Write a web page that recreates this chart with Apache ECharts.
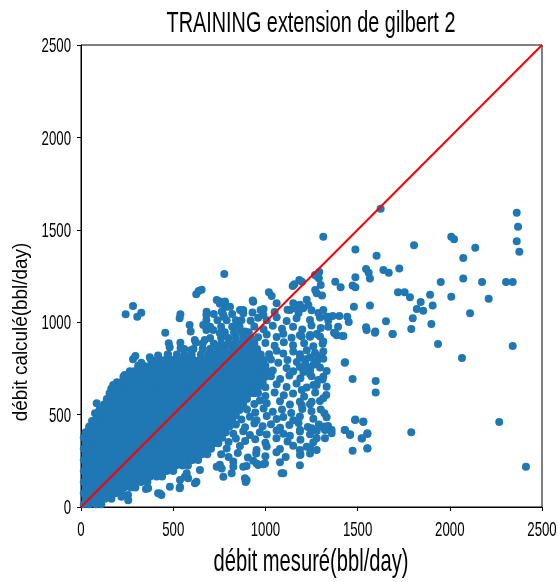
<!DOCTYPE html>
<html>
<head>
<meta charset="utf-8">
<script src="https://cdn.jsdelivr.net/npm/echarts@6/dist/echarts.min.js"></script>
<style>html,body{margin:0;padding:0;background:#fff}#c{width:558px;height:582px}</style>
</head>
<body>
<div id="c"></div>
<script>
const titleText = 'TRAINING extension de gilbert 2';
const xName = 'débit mesuré(bbl/day)';
const yName = 'débit calculé(bbl/day)';
const axisTicks = [0, 500, 1000, 1500, 2000, 2500];
const diagLine = [[0, 0], [2500, 2500]];

// dense core: [y, [x values]]
const coreRows = [
 [15,[15,45,80,110]],
 [45,[25,60,95,130,165]],
 [75,[15,45,80,115,150,185,220]],
 [105,[25,60,95,130,165,200,235,270,295]],
 [135,[15,45,80,115,150,185,220,255,290,325,360]],
 [165,[25,60,95,130,165,200,235,270,305,340,375,410,440]],
 [195,[15,45,80,115,150,185,220,255,290,325,360,395,430,465,500]],
 [225,[25,60,95,130,165,200,235,270,305,340,375,410,445,480,515,550,580]],
 [255,[15,45,80,115,150,185,220,255,290,325,360,395,430,465,500,535,570,605,635]],
 [285,[25,60,95,130,165,200,235,270,305,340,375,410,445,480,515,550,585,620,655,685]],
 [315,[15,45,80,115,150,185,220,255,290,325,360,395,430,465,500,535,570,605,640,675,705]],
 [345,[25,60,95,130,165,200,235,270,305,340,375,410,445,480,515,550,585,620,655,690,720,745]],
 [375,[15,45,80,115,150,185,220,255,290,325,360,395,430,465,500,535,570,605,640,675,710,740,765]],
 [405,[25,60,95,130,165,200,235,270,305,340,375,410,445,480,515,550,585,620,655,690,725,755,785]],
 [435,[45,80,115,150,185,220,255,290,325,360,395,430,465,500,535,570,605,640,675,710,745,775,805]],
 [465,[60,95,130,165,200,235,270,305,340,375,410,445,480,515,550,585,620,655,690,725,760,790,820]],
 [495,[85,115,150,185,220,255,290,325,360,395,430,465,500,535,570,605,640,675,710,745,780,810,840]],
 [525,[100,130,165,200,235,270,305,340,375,410,445,480,515,550,585,620,655,690,725,760,795,825,860]],
 [555,[125,150,185,220,255,290,325,360,395,430,465,500,535,570,605,640,675,710,745,780,815,845,880]],
 [585,[140,165,200,235,270,305,340,375,410,445,480,515,550,585,620,655,690,725,760,795,830,865,900]],
 [615,[155,185,220,255,290,325,360,395,430,465,500,535,570,605,640,675,710,745,780,815,850,885,915,940]],
 [645,[170,200,235,270,305,340,375,410,445,480,515,550,585,620,655,690,725,760,795,830,865,900,930,960]],
 [675,[195,220,255,290,325,360,395,430,465,500,535,570,605,640,675,710,745,780,815,850,885,920,955,985]],
 [705,[230,270,305,340,375,410,445,480,515,550,585,620,655,690,725,760,795,830,865,900,935,970,1000]],
 [735,[265,290,325,360,395,430,465,500,535,570,605,640,675,710,745,780,815,850,885,920,955,990,1010]],
 [765,[310,340,375,410,445,480,515,550,585,620,655,690,725,760,795,830,865,900,935,970,1000]],
 [795,[380,430,465,500,540,575,610,645,680,715,750,785,820,855,890,925,960,990]],
 [825,[470,520,560,600,650,690,725,760,795,830,870,905,940,975]],
 [855,[560,610,660,700,740,780,820,850,885,920,955]],
 [885,[660,720,760,800,835,870,905,940]],
 [915,[700,760,800,840,880,920]],
 [945,[780,830,870,910]],
 [975,[700,760,820,860]],
 [1010,[680,740,790,840,870]],
 [1045,[720,770,820]]
];

// moderately dense area right of the core
const midPoints = [
 [753,228],[826,246],[898,222],[934,250],[989,231],[1079,242],[1187,226],
 [760,286],[800,271],[850,292],[905,268],[950,289],[1000,275],[1060,296],[1110,270],[1190,284],
 [790,316],[862,330],[952,309],[1007,327],[1079,314],[1151,332],[1187,308],[1242,322],
 [800,352],[840,371],[890,357],[945,366],[1000,348],[1060,372],[1120,355],[1190,364],[1260,350],
 [826,396],[880,410],[916,389],[970,404],[1007,392],[1061,414],[1097,397],[1133,386],[1187,408],[1242,393],[1278,411],
 [840,446],[890,431],[940,452],[985,437],[1030,448],[1080,429],[1130,444],[1180,455],[1230,433],[1290,447],[1340,438],
 [870,474],[916,489],[952,470],[1007,493],[1061,476],[1097,487],[1151,469],[1187,490],[1260,478],[1332,486],
 [900,528],[945,512],[990,533],[1040,516],[1090,527],[1140,509],[1200,530],[1250,518],[1300,527],
 [940,558],[970,576],[1007,561],[1079,572],[1133,554],[1187,569],[1242,556],[1296,574],
 [960,617],[1000,601],[1050,620],[1100,605],[1150,614],[1210,598],[1270,619],[1330,606],
 [1000,648],[1061,664],[1115,650],[1169,668],[1224,646],[1278,660],[1332,651],
 [1030,707],[1080,692],[1130,711],[1190,697],[1250,708],[1310,690],
 [1040,738],[1115,752],[1151,734],[1187,757],[1242,741],[1296,755],[1332,736],
 [1030,798],[1070,781],[1120,795],[1170,784],[1220,800],[1280,787],
 [1020,827],[1061,846],[1097,830],[1151,842],[1187,826],[1224,848],[1269,833],[1314,841],
 [1000,888],[1050,872],[1100,891],[1150,875],[1210,886],[1260,870],[1310,884],
 [960,918],[1007,934],[1061,920],[1097,937],[1142,916],[1187,930],[1242,921],[1278,936],
 [940,977],[990,962],[1040,981],[1090,965],[1150,975],[1200,960],[1250,982],[1300,968],
 [920,1008],[961,1024],[1007,1011],[1061,1027],[1115,1006],[1169,1021],[1242,1012],[1296,1025],[1341,1009],
 [880,1066],[930,1052],[990,1071],[1050,1055],[1120,1068],[1180,1050],[1250,1064],
 [753,1100],[781,1085],[934,1110],[1187,1095],[1287,1050],[1341,1030]
];

const upperLeft = [
 [76,507],[85,561],[121,525],[175,660],[164,640],[210,642],[237,714],[282,799],[295,817],[327,781],
 [373,810],[391,790],[418,820],[463,800],[472,825],[457,943],[476,886],[481,865],[539,889],[540,860],
 [598,850],[589,985],[595,949],[617,904],[623,890],[671,904],[680,958],[539,1043],[535,1021],[625,1151],
 [638,1169],[680,1039],[282,1088],[242,1043],[305,1030],[327,1051],[92,440],[45,430]
];

const upperMid = [
 [777,1261],[654,1175],[681,1057],[753,1112],[781,1112],[790,1084],[763,1057],[775,1030],[862,1066],[880,1048],
 [931,1117],[974,1066],[989,1039],[1019,1162],[1034,1142],[1061,1102],[1157,1205],[1184,1229],[1269,1256],[1290,1238],
 [1151,1102],[1160,1075],[1133,1066],[1224,1121],[1233,1093],[1205,1075],[1278,1157],[1270,1174],[1314,1066],[1332,1030],
 [1341,976],[736,1120],[808,1084],[663,985],[717,958],[753,940],[844,976],[889,949]
];

const lowerLeft = [
 [219,56],[255,65],[256,37],[364,101],[352,97],[418,74],[436,65],[428,73],[482,110],[537,108],
 [535,101],[537,146],[563,164],[581,155],[618,128],[626,137],[573,182],[645,200],[736,218],[826,218],
 [880,218],[893,135],[898,146],[952,236],[998,236],[1097,182],[763,209],[772,164],[817,182],[889,155],
 [961,227],[1088,182],[1242,290]
];

const rightSparse = [
 [1197,922],[1242,931],[1296,922],[1314,895],[1377,940],[1419,925],[1549,958],[1594,943],[1690,936],
 [1188,811],[1215,790],[1242,811],[1269,784],[1224,760],[1260,770],[1206,730],[1242,720],[1285,817],[1314,802],
 [1432,783],[1473,693],[1598,682],[1598,619],[1314,705],[1287,687],[1260,660],[1251,570],[1314,588],[1197,552],
 [1197,633],[1320,507],[1188,417],[1251,426],[1296,435],[1323,435],[1359,417],[1323,417],[1359,399],[1278,372],
 [1323,372],[1432,417],[1459,390],[1486,471],[1531,462],[1522,372],[1553,395],[1224,326],[1278,308],[1188,281],
 [1473,305],[1553,318]
];

const farRight = [
 [2363,1592],[2370,1517],[2363,1438],[2377,1381],[1625,1614],[1314,1463],[1488,1394],[1603,1360],[1806,1416],[2008,1463],
 [2023,1449],[2138,1403],[2073,1347],[2073,1237],[2175,1217],[2211,1127],[2305,1217],[2341,1217],[2110,1048],[2341,871],
 [2066,806],[2268,460],[2413,218],[1791,404],[1936,882],[2008,1138],[1951,1217],[1900,990],[1907,1091],[1893,1149],
 [1856,1062],[1842,1109],[1821,1071],[1799,1021],[1791,963],[1784,1135],[1755,1162],[1719,1162],[1726,1291],[1654,1005],
 [1690,936],[1596,949],[1546,972],[1567,1091],[1640,1282],[1669,1268],[1546,1288],[1560,1268],[1567,1237],[1430,781],
 [1488,474],[1531,460],[1553,399],[1524,370],[1553,316],[1430,417],[1459,393],[1480,1084],[1473,1199],[1488,1189],
 [1488,1243],[1444,1030],[1452,1001],[1365,1033],[1401,1033],[1394,976],[1372,943],[1387,929],[1423,925],[1379,1219],
 [1408,1189],[1300,1201],[1307,1145],[1292,1271],[1198,1219],[1148,1196],[1278,1250]
];

const rowsToPoints = rows => { const out = []; rows.forEach(r => r[1].forEach(x => out.push([x, r[0]]))); return out; };
const allPoints = rowsToPoints(coreRows).concat(midPoints, upperLeft, upperMid, lowerLeft, rightSparse, farRight);

const baseFont = "'Liberation Sans', Arial, sans-serif";
const chart = echarts.init(document.getElementById('c'));
chart.setOption({
  animation: false,
  backgroundColor: '#ffffff',
  grid: { left: 81, right: 16, top: 45, bottom: 75, show: true, borderColor: '#000', borderWidth: 1, backgroundColor: 'transparent' },
  xAxis: {
    type: 'value', min: axisTicks[0], max: axisTicks[axisTicks.length - 1], interval: 500,
    splitLine: { show: false },
    axisLine: { lineStyle: { color: '#000', width: 1 } },
    axisTick: { show: true, inside: false, length: 4, lineStyle: { color: '#000' } },
    axisLabel: { show: false }
  },
  yAxis: {
    type: 'value', min: axisTicks[0], max: axisTicks[axisTicks.length - 1], interval: 500,
    splitLine: { show: false },
    axisLine: { show: true, lineStyle: { color: '#000', width: 1 } },
    axisTick: { show: true, inside: false, length: 4, lineStyle: { color: '#000' } },
    axisLabel: { show: false }
  },
  series: [
    { type: 'scatter', data: allPoints, symbol: 'circle', symbolSize: 8, itemStyle: { color: '#1f77b4', opacity: 1 }, z: 2, silent: true },
    { type: 'line', data: diagLine, symbol: 'none', lineStyle: { color: '#ff0000', width: 2 }, z: 5, silent: true }
  ]
});

// tick labels and titles as condensed text (positions from the axis scales)
const graphics = [
  { type: 'text', x: 311, y: 24, scaleX: 0.684, style: { text: titleText, fill: '#000', font: '29px ' + baseFont, textAlign: 'center', textVerticalAlign: 'middle' } },
  { type: 'text', x: 311, y: 562, scaleX: 0.63, style: { text: xName, fill: '#000', font: '32px ' + baseFont, textAlign: 'center', textVerticalAlign: 'middle' } },
  { type: 'text', x: 21, y: 332, rotation: Math.PI / 2, scaleX: 0.9, style: { text: yName, fill: '#000', font: '21px ' + baseFont, textAlign: 'center', textVerticalAlign: 'middle' } }
];
axisTicks.forEach(v => {
  const px = chart.convertToPixel({ gridIndex: 0 }, [v, 0]);
  graphics.push({ type: 'text', x: px[0], y: px[1] + 23, scaleX: 0.63, style: { text: String(v), fill: '#000', font: '21px ' + baseFont, textAlign: 'center', textVerticalAlign: 'middle' } });
  const py = chart.convertToPixel({ gridIndex: 0 }, [0, v]);
  graphics.push({ type: 'text', x: py[0] - 10, y: py[1] + 1.5, scaleX: 0.63, style: { text: String(v), fill: '#000', font: '21px ' + baseFont, textAlign: 'right', textVerticalAlign: 'middle' } });
});
chart.setOption({ graphic: graphics });
</script>
</body>
</html>
